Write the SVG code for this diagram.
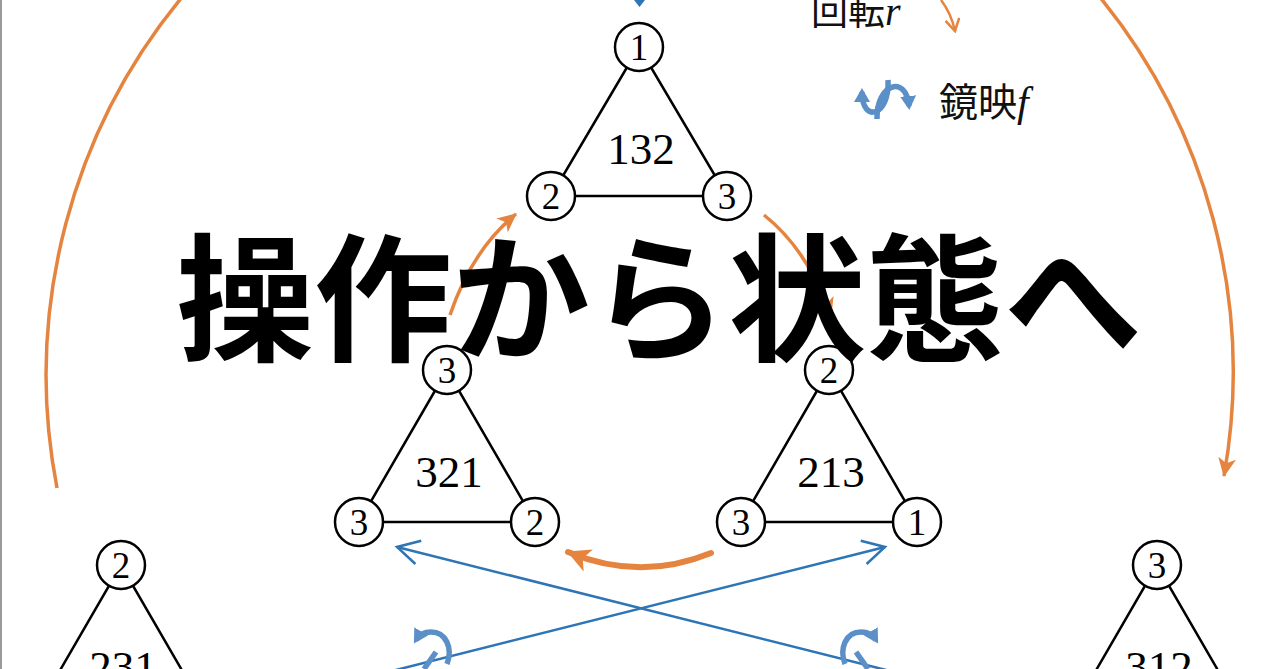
<svg xmlns="http://www.w3.org/2000/svg" width="1280" height="669" viewBox="0 0 1280 669">
<defs>
<style>
.edge{stroke:#000;stroke-width:2.5;fill:none}
.vc{fill:#fff;stroke:#000;stroke-width:2.5}
.vt{font-family:"Liberation Serif",serif;font-size:37px;text-anchor:middle;fill:#000}
.lbl{font-family:"Liberation Serif",serif;font-size:45px;text-anchor:middle;fill:#000}
.or{stroke:#E5843F;fill:none;stroke-width:3.5}
.orT{stroke:#E5843F;fill:none;stroke-width:6;stroke-linecap:round}
.bl{stroke:#2E75B6;fill:none;stroke-width:2.5}
.blc{stroke:#5B8FC7;fill:none;stroke-width:5.5}
.cjk{font-family:"Noto Sans CJK JP",sans-serif;fill:#111}
.it{font-family:"Liberation Serif",serif;font-style:italic}
</style>
<marker id="oa" markerUnits="userSpaceOnUse" viewBox="0 0 20 20" markerWidth="20" markerHeight="20" refX="18" refY="10" orient="auto">
<path d="M0,1 L19,10 L0,19 L5,10 z" fill="#E5843F"/>
</marker>
<marker id="oaL" markerUnits="userSpaceOnUse" viewBox="0 0 24 24" markerWidth="24" markerHeight="24" refX="22" refY="12" orient="auto">
<path d="M0,0 L23,12 L0,24 L6,12 z" fill="#E5843F"/>
</marker>
<marker id="ov" markerUnits="userSpaceOnUse" viewBox="0 0 16 16" markerWidth="16" markerHeight="16" refX="14" refY="8" orient="auto">
<path d="M2,1 L14,8 L2,15" fill="none" stroke="#E5843F" stroke-width="2.5"/>
</marker>
<marker id="bv" markerUnits="userSpaceOnUse" viewBox="0 0 28 28" markerWidth="28" markerHeight="28" refX="25" refY="14" orient="auto-start-reverse">
<path d="M3,2 L25,14 L3,26" fill="none" stroke="#2E75B6" stroke-width="2.5"/>
</marker>
<marker id="bc" markerUnits="userSpaceOnUse" viewBox="0 0 16 16" markerWidth="16" markerHeight="16" refX="10" refY="8" orient="auto">
<path d="M0,0 L14,8 L0,16 z" fill="#5B8FC7"/>
</marker>
</defs>
<rect width="1280" height="669" fill="#fff"/>
<line x1="1" y1="0" x2="1" y2="669" stroke="#9a9a9a" stroke-width="2"/>

<g id="connectors">
<path class="or" d="M 57 488 A 594 594 0 0 1 188 -10"/>
<path class="or" d="M 1094 -10 A 594 594 0 0 1 1224 476" marker-end="url(#oa)"/>
<path class="or" d="M 450 315 Q 472 250 516 214" marker-end="url(#oa)"/>
<path class="or" d="M 764 215 Q 808 250 831 316" marker-end="url(#oa)"/>
<path class="orT" d="M 711 553 Q 640 582 568 552" marker-end="url(#oaL)"/>
<line class="bl" x1="397" y1="547" x2="910" y2="676" marker-start="url(#bv)"/>
<line class="bl" x1="885" y1="547" x2="372" y2="676" marker-start="url(#bv)"/>
<path d="M 634 0 L 645 0 L 639.5 7 z" fill="#2E75B6"/>
<path class="blc" d="M 447 664 C 453 648 446 632 431 632 C 424 632 419 635 416 640" marker-end="url(#bc)"/>
<path class="blc" d="M 436 652 L 424 669"/>
<path class="blc" d="M 845 664 C 839 648 846 632 861 632 C 868 632 873 635 876 640" marker-end="url(#bc)"/>
<path class="blc" d="M 856 652 L 868 669"/>
</g>

<g id="node-132">
<path class="edge" d="M639,47 L551,196 L727,196 Z"/>
<circle class="vc" cx="639" cy="47" r="24"/><text class="vt" x="639" y="60">1</text>
<circle class="vc" cx="551" cy="196" r="24"/><text class="vt" x="551" y="209">2</text>
<circle class="vc" cx="727" cy="196" r="24"/><text class="vt" x="727" y="209">3</text>
<text class="lbl" x="641" y="164">132</text>
</g>

<g id="node-321">
<path class="edge" d="M447,370 L359,522 L535,522 Z"/>
<circle class="vc" cx="447" cy="370" r="24"/><text class="vt" x="447" y="383">3</text>
<circle class="vc" cx="359" cy="522" r="24"/><text class="vt" x="359" y="535">3</text>
<circle class="vc" cx="535" cy="522" r="24"/><text class="vt" x="535" y="535">2</text>
<text class="lbl" x="449" y="487">321</text>
</g>

<g id="node-213">
<path class="edge" d="M829,370 L741,522 L917,522 Z"/>
<circle class="vc" cx="829" cy="370" r="24"/><text class="vt" x="829" y="383">2</text>
<circle class="vc" cx="741" cy="522" r="24"/><text class="vt" x="741" y="535">3</text>
<circle class="vc" cx="917" cy="522" r="24"/><text class="vt" x="917" y="535">1</text>
<text class="lbl" x="831" y="487">213</text>
</g>

<g id="node-231">
<path class="edge" d="M33,717 L121,565 L209,717"/>
<circle class="vc" cx="121" cy="565" r="24"/><text class="vt" x="121" y="578">2</text>
<text class="lbl" x="123" y="682">231</text>
</g>

<g id="node-312">
<path class="edge" d="M1069,717 L1157,565 L1245,717"/>
<circle class="vc" cx="1157" cy="565" r="24"/><text class="vt" x="1157" y="578">3</text>
<text class="lbl" x="1159" y="682">312</text>
</g>

<g id="legend">
<text class="cjk" x="811" y="25" font-size="37">回転<tspan class="it" font-size="40">r</tspan></text>
<path d="M 941 0 Q 951 13 955 31" fill="none" stroke="#E5843F" stroke-width="2.5" marker-end="url(#ov)"/>
<path class="blc" d="M 888 80 C 890 116 862 124 862 92" marker-end="url(#bc)"/>
<path class="blc" d="M 877 119 C 876 84 906 74 909 106" marker-end="url(#bc)"/>
<text class="cjk" x="939" y="116" font-size="39">鏡映<tspan class="it" font-size="42">f</tspan></text>
</g>

<text id="title" x="659" y="350" font-family="'Noto Sans CJK JP',sans-serif" font-weight="700" font-size="138" text-anchor="middle" fill="#000">操作から状態へ</text>
</svg>
